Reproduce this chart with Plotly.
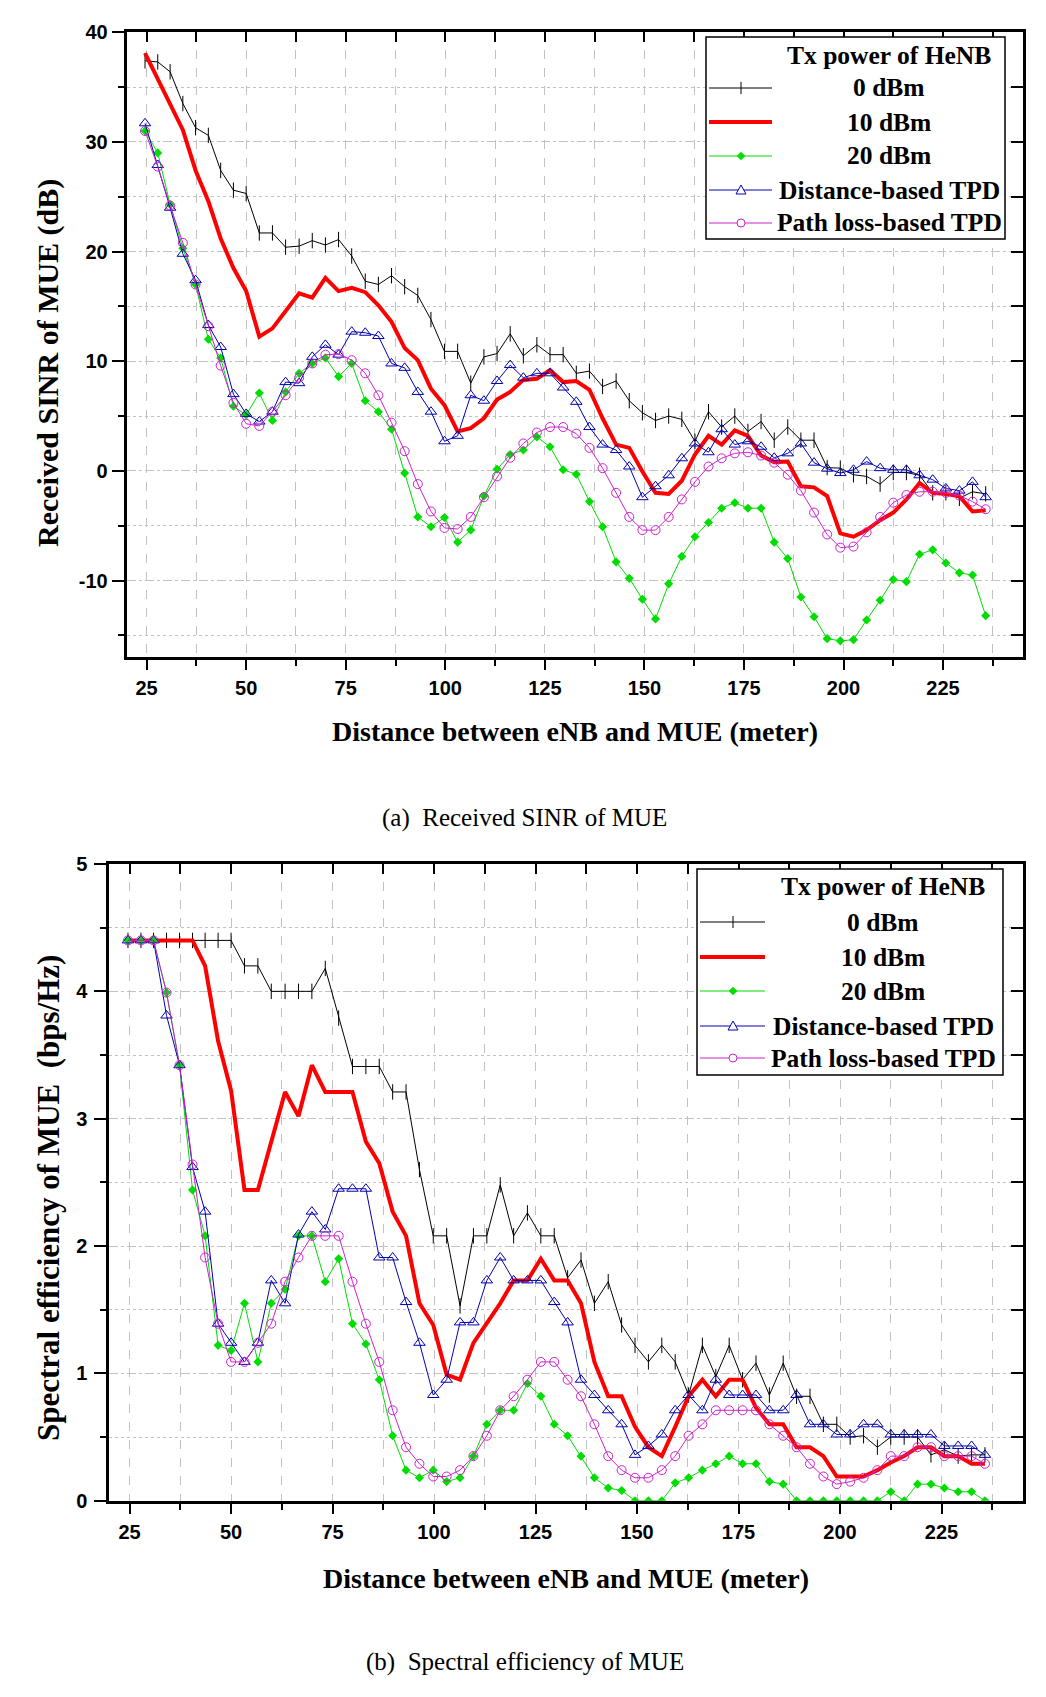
import plotly.graph_objects as go

# ---------------- data ----------------
distance_m = [24.6, 27.8, 30.9, 34.1, 37.3, 40.5, 43.6, 46.8, 50.0, 53.3,
              56.6, 59.9, 63.3, 66.6, 69.9, 73.2, 76.5, 79.9, 83.2, 86.5,
              89.8, 93.1, 96.4, 99.8, 103.1, 106.4, 109.7, 113.0, 116.3, 119.6,
              123.0, 126.3, 129.6, 132.9, 136.2, 139.5, 142.9, 146.2, 149.5, 152.8,
              156.1, 159.4, 162.7, 166.1, 169.4, 172.7, 176.0, 179.3, 182.6, 186.0,
              189.3, 192.6, 195.9, 199.2, 202.5, 205.8, 209.2, 212.5, 215.8, 219.1,
              222.4, 225.7, 229.1, 232.4, 235.7]

series_names = ["0 dBm", "10 dBm", "20 dBm", "Distance-based TPD", "Path loss-based TPD"]
legend_title = "Tx power of HeNB"

sinr_0dbm = [37.4, 37.3, 36.4, 33.5, 31.3, 30.6, 27.4, 25.6, 25.3, 21.7,
             21.7, 20.4, 20.5, 21.0, 20.6, 21.1, 19.6, 17.3, 17.0, 17.8,
             16.8, 16.0, 13.8, 10.9, 10.9, 8.0, 10.4, 10.7, 12.5, 10.5,
             11.5, 10.6, 10.6, 8.9, 9.1, 7.7, 8.2, 6.4, 5.3, 4.6,
             5.0, 4.7, 2.7, 5.4, 4.0, 5.0, 3.6, 4.5, 2.8, 4.0,
             2.8, 2.8, 0.3, 0.25, -0.35, -0.5, -1.2, -0.15, -0.15, -0.4,
             -2.0, -2.0, -2.5, -1.9, -2.1]
sinr_10dbm = [38.1, 35.7, 33.4, 31.1, 27.4, 24.6, 21.2, 18.5, 16.4, 12.25,
              13.0, 14.6, 16.2, 15.8, 17.6, 16.4, 16.7, 16.3, 15.1, 13.6,
              11.2, 10.1, 7.5, 6.0, 3.6, 3.9, 4.8, 6.5, 7.2, 8.3,
              8.4, 9.2, 8.1, 8.2, 7.4, 4.8, 2.4, 2.1, -0.06, -2.0,
              -2.1, -0.9, 1.5, 3.2, 2.4, 3.7, 3.2, 1.4, 0.8, 0.85,
              -1.4, -1.5, -2.3, -5.7, -6.0, -5.4, -4.5, -3.8, -2.6, -1.1,
              -2.0, -2.1, -2.3, -3.7, -3.6]
sinr_20dbm = [31.0, 29.0, 24.3, 20.3, 17.0, 12.0, 10.3, 5.9, 5.1, 7.1,
              4.6, 7.2, 8.9, 9.8, 10.3, 8.6, 9.8, 6.4, 5.4, 3.8,
              -0.2, -4.2, -5.1, -4.25, -6.5, -5.4, -2.3, 0.15, 1.5, 1.9,
              3.1, 2.2, 0.1, -0.3, -2.8, -5.1, -8.3, -9.8, -11.7, -13.5,
              -10.3, -7.8, -6.0, -4.7, -3.4, -2.9, -3.4, -3.4, -6.5, -8.0,
              -11.5, -13.3, -15.3, -15.5, -15.4, -13.6, -11.8, -9.9, -10.1, -7.6,
              -7.2, -8.4, -9.3, -9.5, -13.2]
sinr_dist_tpd = [31.7, 27.9, 24.0, 19.8, 17.4, 13.3, 11.3, 7.0, 5.2, 4.5,
                 5.4, 8.1, 8.0, 10.4, 11.5, 10.6, 12.7, 12.6, 12.3, 9.8,
                 9.4, 7.2, 5.4, 2.7, 3.2, 6.9, 6.4, 8.2, 9.65, 8.5,
                 8.9, 8.9, 7.6, 6.3, 4.0, 2.4, 1.9, 0.4, -2.4, -1.4,
                 -0.4, 1.15, 2.5, 1.7, 3.8, 2.4, 2.7, 2.2, 1.2, 1.6,
                 2.5, 0.75, 0.2, -0.2, 0.1, 0.85, 0.25, 0.1, 0.1, -0.4,
                 -0.8, -1.6, -1.8, -1.0, -2.4]
sinr_pl_tpd = [31.0, 27.75, 24.2, 20.8, 17.0, 13.2, 9.6, 6.2, 4.3, 4.1,
               5.4, 6.9, 8.5, 9.8, 10.6, 10.65, 10.1, 8.9, 6.9, 4.4,
               1.8, -1.2, -3.7, -5.2, -5.3, -4.2, -2.4, -0.5, 1.2, 2.5,
               3.5, 4.0, 4.0, 3.4, 2.1, 0.25, -2.0, -4.2, -5.4, -5.4,
               -4.2, -2.6, -1.0, 0.4, 1.15, 1.6, 1.7, 1.4, 0.75, -0.35,
               -1.8, -3.8, -5.8, -7.0, -6.9, -5.6, -4.2, -2.9, -2.2, -1.9,
               -1.9, -2.0, -2.25, -2.8, -3.5]

se_0dbm = [4.4, 4.4, 4.4, 4.4, 4.4, 4.4, 4.4, 4.4, 4.4, 4.2,
           4.2, 4.0, 4.0, 4.0, 4.0, 4.18, 3.79, 3.41, 3.41, 3.41,
           3.21, 3.21, 2.6, 2.08, 2.08, 1.53, 2.08, 2.08, 2.48, 2.08,
           2.26, 2.08, 2.08, 1.75, 1.89, 1.55, 1.72, 1.38, 1.22, 1.09,
           1.22, 1.09, 0.83, 1.22, 0.975, 1.22, 0.95, 1.08, 0.83, 1.08,
           0.82, 0.82, 0.6, 0.6, 0.5, 0.51, 0.42, 0.5, 0.5, 0.5,
           0.36, 0.4, 0.35, 0.36, 0.36]
se_10dbm = [4.4, 4.4, 4.4, 4.4, 4.4, 4.4, 4.2, 3.61, 3.22, 2.44,
            2.44, 2.83, 3.21, 3.02, 3.42, 3.21, 3.21, 3.21, 2.82, 2.65,
            2.27, 2.08, 1.55, 1.38, 0.99, 0.95, 1.24, 1.4, 1.55, 1.73,
            1.73, 1.9, 1.73, 1.73, 1.55, 1.09, 0.82, 0.82, 0.58, 0.42,
            0.35, 0.58, 0.82, 0.95, 0.82, 0.95, 0.95, 0.73, 0.6, 0.6,
            0.42, 0.42, 0.35, 0.19, 0.19, 0.19, 0.24, 0.3, 0.35, 0.42,
            0.42, 0.35, 0.35, 0.29, 0.29]
se_20dbm = [4.4, 4.4, 4.4, 3.99, 3.42, 2.44, 2.08, 1.22, 1.18, 1.55,
            1.09, 1.55, 1.66, 2.08, 2.08, 1.72, 1.9, 1.39, 1.23, 0.95,
            0.51, 0.24, 0.18, 0.24, 0.15, 0.18, 0.35, 0.6, 0.71, 0.71,
            0.92, 0.82, 0.6, 0.51, 0.35, 0.18, 0.1, 0.08, 0.0, 0.0,
            0.0, 0.14, 0.18, 0.24, 0.29, 0.35, 0.29, 0.29, 0.15, 0.13,
            0.0, 0.0, 0.0, 0.0, 0.0, 0.0, 0.0, 0.07, 0.0, 0.13,
            0.13, 0.1, 0.07, 0.07, 0.0]
se_dist_tpd = [4.4, 4.4, 4.4, 3.81, 3.42, 2.62, 2.27, 1.39, 1.24, 1.09,
               1.24, 1.73, 1.55, 2.09, 2.27, 2.13, 2.45, 2.45, 2.45, 1.91,
               1.91, 1.56, 1.24, 0.83, 0.95, 1.4, 1.4, 1.73, 1.91, 1.73,
               1.73, 1.73, 1.56, 1.4, 0.95, 0.83, 0.71, 0.6, 0.36, 0.43,
               0.52, 0.71, 0.83, 0.71, 0.95, 0.83, 0.83, 0.83, 0.71, 0.71,
               0.83, 0.6, 0.6, 0.52, 0.52, 0.6, 0.6, 0.52, 0.52, 0.52,
               0.52, 0.43, 0.43, 0.43, 0.36]
se_pl_tpd = [4.4, 4.4, 4.4, 3.99, 3.42, 2.64, 1.91, 1.39, 1.09, 1.09,
             1.24, 1.39, 1.72, 1.91, 2.08, 2.08, 2.08, 1.72, 1.39, 1.09,
             0.71, 0.42, 0.29, 0.19, 0.19, 0.24, 0.35, 0.51, 0.71, 0.82,
             0.95, 1.09, 1.09, 0.95, 0.82, 0.6, 0.35, 0.24, 0.18, 0.18,
             0.24, 0.35, 0.51, 0.6, 0.71, 0.71, 0.71, 0.71, 0.6, 0.51,
             0.42, 0.29, 0.19, 0.13, 0.15, 0.18, 0.24, 0.35, 0.35, 0.42,
             0.42, 0.35, 0.35, 0.35, 0.29]

x_tickvals = [25, 50, 75, 100, 125, 150, 175, 200, 225]
x_ticktext = ["25", "50", "75", "100", "125", "150", "175", "200", "225"]
sinr_tickvals = [-10, 0, 10, 20, 30, 40]
sinr_ticktext = ["-10", "0", "10", "20", "30", "40"]
se_tickvals = [0, 1, 2, 3, 4, 5]
se_ticktext = ["0", "1", "2", "3", "4", "5"]

x_title = "Distance between eNB and MUE (meter)"
sinr_title = "Received SINR of MUE (dB)"
se_title = "Spectral efficiency of MUE\u00a0\u00a0(bps/Hz)"
caption_a = "(a)\u2002Received SINR of MUE"
caption_b = "(b)\u2002Spectral efficiency of MUE"

# ---------------- styles ----------------
W, H = 1046, 1697
SERIF = "Liberation Serif, Times New Roman, serif"
SANS = "Liberation Sans, Arial, sans-serif"
GRID = "#c2c2c2"
C_BLACK, C_RED, C_GREEN, C_BLUE, C_MAG = "#000000", "#ff0000", "#00dd00", "#0000b0", "#cc22cc"

styles = [
    dict(mode="lines+markers", line=dict(color=C_BLACK, width=1),
         marker=dict(symbol="line-ns", size=11, line=dict(width=1, color=C_BLACK))),
    dict(mode="lines", line=dict(color=C_RED, width=4)),
    dict(mode="lines+markers", line=dict(color=C_GREEN, width=1),
         marker=dict(symbol="diamond", size=7, color=C_GREEN, line=dict(width=0))),
    dict(mode="lines+markers", line=dict(color=C_BLUE, width=1),
         marker=dict(symbol="triangle-up-open", size=10, color=C_BLUE, line=dict(width=1))),
    dict(mode="lines+markers", line=dict(color=C_MAG, width=1),
         marker=dict(symbol="circle-open", size=9, color=C_MAG, line=dict(width=1))),
]


def px(x):
    return x / W


def py(y):
    return 1 - y / H


fig = go.Figure()

top_series = [sinr_0dbm, sinr_10dbm, sinr_20dbm, sinr_dist_tpd, sinr_pl_tpd]
bot_series = [se_0dbm, se_10dbm, se_20dbm, se_dist_tpd, se_pl_tpd]
for name, ys, st in zip(series_names, top_series, styles):
    fig.add_trace(go.Scatter(x=distance_m, y=ys, name=name, xaxis="x", yaxis="y",
                             showlegend=False, **st))
for name, ys, st in zip(series_names, bot_series, styles):
    fig.add_trace(go.Scatter(x=distance_m, y=ys, name=name, xaxis="x2", yaxis="y2",
                             showlegend=False, **st))

# empty traces only to activate the mirrored (top / right) frame axes
for xa, ya in [("x3", "y"), ("x", "y3"), ("x4", "y2"), ("x2", "y4")]:
    fig.add_trace(go.Scatter(x=[], y=[], xaxis=xa, yaxis=ya, showlegend=False,
                             hoverinfo="skip", mode="lines"))

tickfont = dict(family=SANS, size=20, color="black", weight="bold")


def main_x(domain, anchor):
    return dict(domain=domain, anchor=anchor, range=[20, 245], tickmode="array",
                tickvals=x_tickvals, ticktext=x_ticktext, ticks="outside", ticklen=10,
                tickwidth=2, tickcolor="black", showline=True, linewidth=3, linecolor="black",
                showgrid=True, gridcolor=GRID, gridwidth=1, griddash="dash", zeroline=False,
                tickfont=tickfont, ticklabelstandoff=1, automargin=False,
                minor=dict(dtick=12.5, tick0=25, ticks="outside", ticklen=6, tickwidth=2,
                           tickcolor="black", showgrid=True, gridcolor=GRID, griddash="dash"))


def mirror_x(over, anchor):
    return dict(overlaying=over, anchor=anchor, side="top", range=[20, 245], tickmode="linear",
                tick0=25, dtick=12.5, ticks="inside", ticklen=10, tickwidth=2, tickcolor="black",
                showticklabels=False, showgrid=False, zeroline=False, showline=True,
                linewidth=3, linecolor="black", automargin=False)


def main_y(domain, anchor, rng, tv, tt, minor_dt, standoff):
    return dict(domain=domain, anchor=anchor, range=rng, tickmode="array", tickvals=tv,
                ticktext=tt, ticks="outside", ticklen=12, tickwidth=2, tickcolor="black",
                showline=True, linewidth=3, linecolor="black", showgrid=True, gridcolor=GRID,
                gridwidth=1, griddash="dash", zeroline=False, tickfont=tickfont,
                ticklabelstandoff=standoff, automargin=False,
                minor=dict(dtick=minor_dt, tick0=0, ticks="outside", ticklen=6, tickwidth=2,
                           tickcolor="black", showgrid=True, gridcolor=GRID, griddash="dot"))


def mirror_y(over, anchor, rng, dt):
    return dict(overlaying=over, anchor=anchor, side="right", range=rng, tickmode="linear",
                tick0=0, dtick=dt, ticks="inside", ticklen=12, tickwidth=2, tickcolor="black",
                showticklabels=False, showgrid=False, zeroline=False, showline=True,
                linewidth=3, linecolor="black", automargin=False)


top_xd = [px(126.7), px(1022.7)]
top_yd = [py(657.3), py(32.3)]
bot_xd = [px(109.3), px(1022.7)]
bot_yd = [py(1500.7), py(864.0)]

fig.update_layout(
    xaxis=main_x(top_xd, "y"),
    yaxis=main_y(top_yd, "x", [-17, 40], sinr_tickvals, sinr_ticktext, 5, 0),
    xaxis2=main_x(bot_xd, "y2"),
    yaxis2=main_y(bot_yd, "x2", [0, 5], se_tickvals, se_ticktext, 0.5, 3),
    xaxis3=mirror_x("x", "y"),
    yaxis3=mirror_y("y", "x", [-17, 40], 5),
    xaxis4=mirror_x("x2", "y2"),
    yaxis4=mirror_y("y2", "x2", [0, 5], 0.5),
)

# ---------------- custom legends (centered text like the original) ----------------
shapes = []
annotations = []
LEG_FONT = dict(family=SERIF, size=25.5, color="black", weight="bold")


def add_legend(box, title_y, rows_y, sx0, sx1, mx, tcx):
    x0, x1, y0, y1 = box
    shapes.append(dict(type="rect", xref="paper", yref="paper", x0=px(x0), x1=px(x1),
                       y0=py(y1), y1=py(y0), line=dict(color="black", width=1.5),
                       fillcolor="white", layer="above"))
    annotations.append(dict(text=legend_title, x=px(tcx), y=py(title_y), xref="paper",
                            yref="paper", showarrow=False, xanchor="center", yanchor="middle",
                            font=LEG_FONT))
    widths = [1, 4, 1, 1, 1]
    colors = [C_BLACK, C_RED, C_GREEN, C_BLUE, C_MAG]
    for k, (ry, name) in enumerate(zip(rows_y, series_names)):
        shapes.append(dict(type="line", xref="paper", yref="paper", x0=px(sx0), x1=px(sx1),
                           y0=py(ry), y1=py(ry), line=dict(color=colors[k], width=widths[k]),
                           layer="above"))
        if k == 0:
            shapes.append(dict(type="line", xref="paper", yref="paper", x0=px(mx), x1=px(mx),
                               y0=py(ry - 6), y1=py(ry + 6), line=dict(color=C_BLACK, width=1),
                               layer="above"))
        elif k == 2:
            path = "M {},{} L {},{} L {},{} L {},{} Z".format(
                px(mx), py(ry - 4), px(mx + 4), py(ry), px(mx), py(ry + 4), px(mx - 4), py(ry))
            shapes.append(dict(type="path", xref="paper", yref="paper", path=path,
                               fillcolor=C_GREEN, line=dict(color=C_GREEN, width=0.5),
                               layer="above"))
        elif k == 3:
            path = "M {},{} L {},{} L {},{} Z".format(
                px(mx), py(ry - 5), px(mx + 5), py(ry + 4), px(mx - 5), py(ry + 4))
            shapes.append(dict(type="path", xref="paper", yref="paper", path=path,
                               fillcolor="white", line=dict(color=C_BLUE, width=1),
                               layer="above"))
        elif k == 4:
            shapes.append(dict(type="circle", xref="paper", yref="paper", x0=px(mx - 4),
                               x1=px(mx + 4), y0=py(ry + 4), y1=py(ry - 4), fillcolor="white",
                               line=dict(color=C_MAG, width=1), layer="above"))
        annotations.append(dict(text=name, x=px(tcx), y=py(ry), xref="paper", yref="paper",
                                showarrow=False, xanchor="center", yanchor="middle",
                                font=LEG_FONT))


add_legend((706, 1005, 37, 239), 55, [88, 122, 156, 190, 223], 709, 772, 741, 889)
add_legend((697, 1003, 869, 1075), 887, [922, 957, 991, 1026, 1058], 700, 765, 733, 883)


def add_text(text, x, y, size, bold, angle=0):
    f = dict(family=SERIF, size=size, color="black")
    if bold:
        f["weight"] = "bold"
    annotations.append(dict(text=text, x=px(x), y=py(y), xref="paper", yref="paper",
                            showarrow=False, xanchor="center", yanchor="middle",
                            textangle=angle, font=f))


add_text(x_title, 574.7, 731, 28, True)
add_text(sinr_title, 48, 363, 30, True, -90)
add_text(caption_a, 524, 818, 25, False)
add_text(x_title, 566, 1578, 28, True)
add_text(se_title, 48, 1198, 31, True, -90)
add_text(caption_b, 525, 1662, 25, False)

fig.update_layout(
    width=W, height=H, margin=dict(l=0, r=0, t=0, b=0, pad=0, autoexpand=False),
    paper_bgcolor="white", plot_bgcolor="white",
    shapes=shapes, annotations=annotations, showlegend=False,
)

fig.write_html("out.html", config={"displayModeBar": False},
               post_script="document.body.style.margin='0';")
